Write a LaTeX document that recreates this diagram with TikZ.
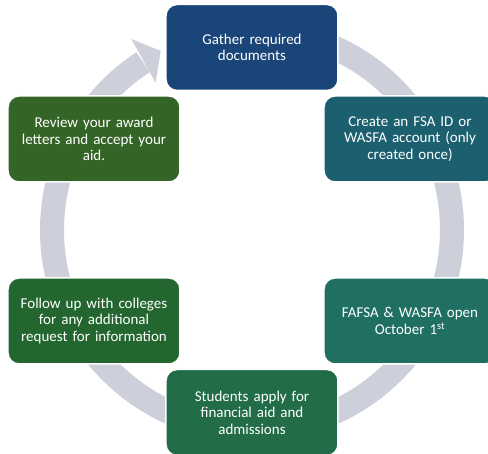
\documentclass[tikz,border=0pt]{standalone}
\usepackage{fontspec}
\setmainfont{Carlito}
\definecolor{ringgrey}{HTML}{CDD0DA}
\definecolor{gatherblue}{HTML}{1A4579}
\definecolor{fsateal}{HTML}{1C6070}
\definecolor{openteal}{HTML}{1F7062}
\definecolor{applygreen}{HTML}{226C47}
\definecolor{followgreen}{HTML}{23662F}
\definecolor{reviewgreen}{HTML}{356427}
\begin{document}
\begin{tikzpicture}[x=1pt,y=1pt,
        stage/.style={draw=white, line width=1.5pt, rounded corners=11pt,
                      minimum width=172pt, minimum height=86pt,
                      text width=166pt, align=center, text=white,
                      font=\fontsize{15}{16.5}\selectfont, inner sep=2pt}]
        \useasboundingbox (-252,-224) rectangle (236,230);

        % ring with arrow head
        \draw[ringgrey, line width=24pt] (85:200) arc (85:-237:200);
        \fill[ringgrey] (123.2:176) -- (117:201) -- (122.3:226) -- cycle;

        \node[stage, fill=gatherblue] (gather) at (0,182.5) {Gather required\\documents};
        \node[stage, fill=fsateal] (fsaid) at (158,91) {Create an FSA ID or\\WASFA account (only\\created once)};
        \node[stage, fill=openteal] (open) at (158,-91) {FAFSA \& WASFA open\\October 1\textsuperscript{st}};
        \node[stage, fill=applygreen] (apply) at (0,-182.5) {Students apply for\\financial aid and\\admissions};
        \node[stage, fill=followgreen] (follow) at (-158,-91) {Follow up with colleges\\for any additional\\request for information};
        \node[stage, fill=reviewgreen] (review) at (-158,91) {Review your award\\letters and accept your\\aid.};
    \end{tikzpicture}
\end{document}
